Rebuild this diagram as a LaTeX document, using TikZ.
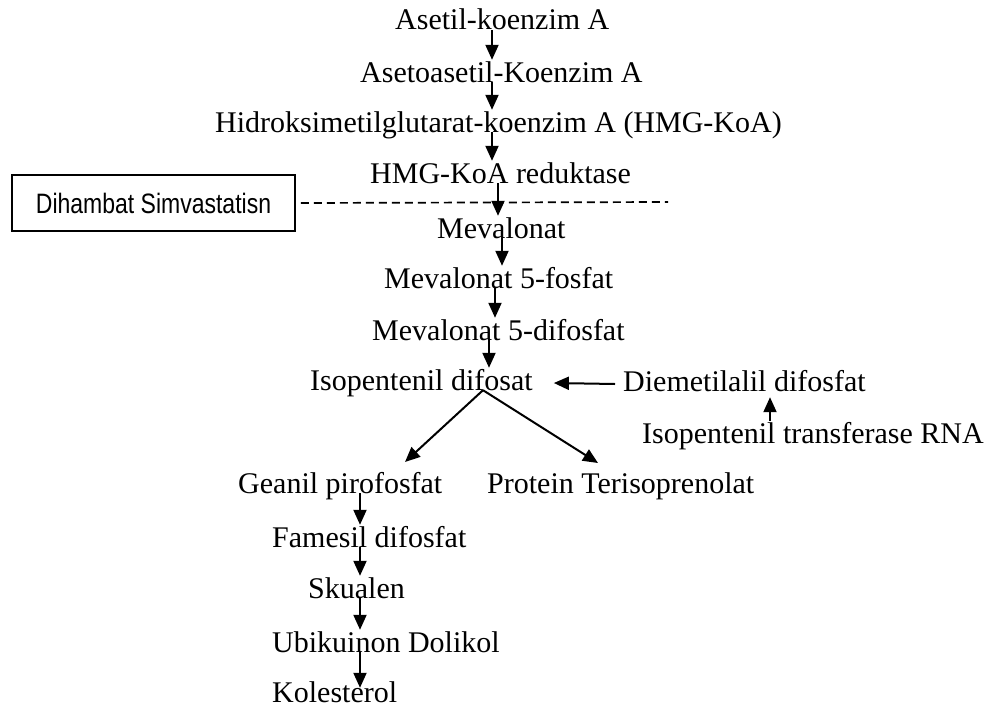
\documentclass[tikz,border=0pt]{standalone}
\usepackage{fontspec}
\setmainfont{Liberation Serif}
\newfontfamily\boxfont{Liberation Sans}
\usetikzlibrary{arrows.meta}
\begin{document}
\begin{tikzpicture}[x=1pt,y=-1pt,
  lbl/.style={anchor=base west, inner sep=0pt, text height=22pt, text depth=0pt, font=\fontsize{30}{36}\selectfont},
  arr/.style={-{Triangle[length=15pt,width=13pt]}, line width=2pt},
  dashline/.style={line width=1.7pt, dash pattern=on 8pt off 5pt}]
\useasboundingbox (0,0) rectangle (990,709);
% main chain
\node[lbl] (a1) at (395,30) {Asetil-koenzim A};
\node[lbl] (a2) at (360,82) {Asetoasetil-Koenzim A};
\node[lbl] (a3) at (215,132) {Hidroksimetilglutarat-koenzim A (HMG-KoA)};
\node[lbl] (a4) at (370,183) {HMG-KoA reduktase};
\node[lbl] (a5) at (437,238) {Mevalonat};
\node[lbl] (a6) at (384,288) {Mevalonat 5-fosfat};
\node[lbl] (a7) at (372,340) {Mevalonat 5-difosfat};
\node[lbl] (iso) at (310,390) {Isopentenil difosat};
\node[lbl] (dim) at (623,391) {Diemetilalil difosfat};
\node[lbl] (ipt) at (642,443) {Isopentenil transferase RNA};
\node[lbl] (gea) at (238,493) {Geanil pirofosfat};
\node[lbl] (pro) at (487,493) {Protein Terisoprenolat};
\node[lbl] (fam) at (272,547) {Famesil difosfat};
\node[lbl] (sku) at (308,598) {Skualen};
\node[lbl] (ubi) at (272,652) {Ubikuinon Dolikol};
\node[lbl] (kol) at (272,702) {Kolesterol};
% box and dashed line
\node[draw, line width=1.5pt, minimum width=283pt, minimum height=56pt, inner sep=0pt,
      font=\boxfont\fontsize{23}{28}\selectfont] (box) at (153.5,203) {\scalebox{1}[1.22]{Dihambat Simvastatisn}};
\coordinate (dend) at (668,202);
\draw[dashline] ([xshift=5pt]box.east) -- (dend);
% arrows main chain
\draw[arr] (a1.south -| 492,0) -- (a2.north -| 492,0);
\draw[arr] (a2.south -| 492,0) -- (a3.north -| 492,0);
\draw[arr] (a3.south -| 492,0) -- (a4.north -| 492,0);
\draw[arr] (a4.south -| 498,0) -- (a5.north -| 498,0);
\draw[arr] (a5.south -| 502,0) -- (a6.north -| 502,0);
\draw[arr] (a6.south -| 495,0) -- (a7.north -| 495,0);
\draw[arr] (a7.south -| 489,0) -- (iso.north -| 489,0);
% side arrows
\draw[arr] ([shift={(-8pt,7pt)}]dim.base west) -- ([shift={(21pt,7pt)}]iso.base east);
\draw[arr, shorten >=6pt] (ipt.north -| 770,0) -- (dim.south -| 770,0);
% branches
\coordinate (gtip) at (405,462);
\coordinate (ptip) at (598,463);
\draw[arr] (iso.south -| 483,0) -- (gtip);
\draw[arr] (iso.south -| 483,0) -- (ptip);
% lower chain
\draw[arr] (gea.south -| 360,0) -- (fam.north -| 360,0);
\draw[arr] (fam.south -| 360,0) -- (sku.north -| 360,0);
\draw[arr] (sku.south -| 360,0) -- (ubi.north -| 360,0);
\draw[arr, shorten >=-8pt] (ubi.south -| 360,0) -- (kol.north -| 360,0);
\end{tikzpicture}
\end{document}
